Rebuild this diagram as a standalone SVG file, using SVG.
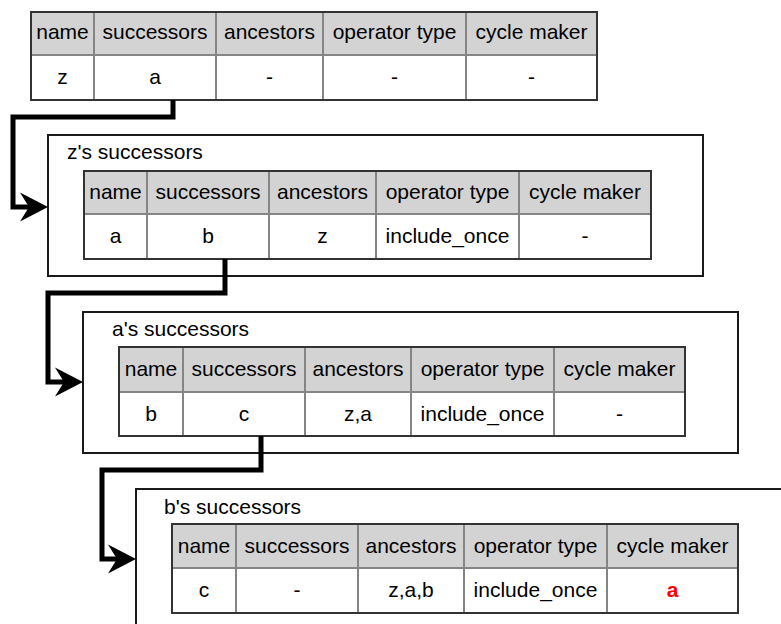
<svg xmlns="http://www.w3.org/2000/svg" width="781" height="624" viewBox="0 0 781 624">
  <style>
    text { font-family: "Liberation Sans", Arial, Helvetica, sans-serif; font-size: 21px; fill: #000; }
    .c { text-anchor: middle; }
    .hdr { fill: #d3d3d3; }
    .row { fill: #ffffff; }
    .grid { stroke: #858585; stroke-width: 2; fill: none; }
    .frame { stroke: #333333; stroke-width: 2; fill: none; }
    .box { stroke: #1a1a1a; stroke-width: 2; fill: #ffffff; }
    .link { stroke: #000; stroke-width: 5; fill: none; stroke-linejoin: miter; }
    .cyc { fill: #ff0000; font-weight: bold; }
  </style>
  <defs>
    <marker id="arrow" markerUnits="userSpaceOnUse" viewBox="-28 -16 30 32" markerWidth="30" markerHeight="32" refX="-14" refY="0" orient="auto">
      <path d="M0,0 L-28,-14.5 L-19,0 L-28,14.5 Z" fill="#000"/>
    </marker>
  </defs>

  <!-- scope frames -->
  <g id="scope-z">
    <rect class="box" x="48" y="135" width="655" height="141"/>
    <text x="67" y="159">z's successors</text>
  </g>
  <g id="scope-a">
    <rect class="box" x="83" y="312" width="655" height="141"/>
    <text x="112" y="336">a's successors</text>
  </g>
  <g id="scope-b">
    <path class="box" d="M136,640 V489 H800"/>
    <text x="164" y="514">b's successors</text>
  </g>

  <!-- node table z -->
  <g id="node-z">
    <rect class="hdr" x="31" y="12" width="566" height="43"/>
    <rect class="row" x="31" y="55" width="566" height="45"/>
    <path class="grid" d="M31,55 H597 M94,12 V100 M216,12 V100 M323,12 V100 M466,12 V100"/>
    <rect class="frame" x="31" y="12" width="566" height="88"/>
    <text class="c" x="62.5" y="39">name</text>
    <text class="c" x="155" y="39">successors</text>
    <text class="c" x="269.5" y="39">ancestors</text>
    <text class="c" x="394.5" y="39">operator type</text>
    <text class="c" x="531.5" y="39">cycle maker</text>
    <text class="c" x="62.5" y="84">z</text>
    <text class="c" x="155" y="84">a</text>
    <text class="c" x="269.5" y="84">-</text>
    <text class="c" x="394.5" y="84">-</text>
    <text class="c" x="531.5" y="84">-</text>
  </g>

  <!-- node table a -->
  <g id="node-a">
    <rect class="hdr" x="84" y="171" width="567" height="43"/>
    <rect class="row" x="84" y="214" width="567" height="45"/>
    <path class="grid" d="M84,214 H651 M147,171 V259 M269,171 V259 M376,171 V259 M519,171 V259"/>
    <rect class="frame" x="84" y="171" width="567" height="88"/>
    <text class="c" x="115.5" y="199">name</text>
    <text class="c" x="208" y="199">successors</text>
    <text class="c" x="322.5" y="199">ancestors</text>
    <text class="c" x="447.5" y="199">operator type</text>
    <text class="c" x="585" y="199">cycle maker</text>
    <text class="c" x="115.5" y="243">a</text>
    <text class="c" x="208" y="243">b</text>
    <text class="c" x="322.5" y="243">z</text>
    <text class="c" x="447.5" y="243">include_once</text>
    <text class="c" x="585" y="243">-</text>
  </g>

  <!-- node table b -->
  <g id="node-b">
    <rect class="hdr" x="119" y="347" width="566" height="45"/>
    <rect class="row" x="119" y="392" width="566" height="44"/>
    <path class="grid" d="M119,392 H685 M183,347 V436 M305,347 V436 M411,347 V436 M554,347 V436"/>
    <rect class="frame" x="119" y="347" width="566" height="89"/>
    <text class="c" x="151" y="376">name</text>
    <text class="c" x="244" y="376">successors</text>
    <text class="c" x="358" y="376">ancestors</text>
    <text class="c" x="482.5" y="376">operator type</text>
    <text class="c" x="619.5" y="376">cycle maker</text>
    <text class="c" x="151" y="421">b</text>
    <text class="c" x="244" y="421">c</text>
    <text class="c" x="358" y="421">z,a</text>
    <text class="c" x="482.5" y="421">include_once</text>
    <text class="c" x="619.5" y="421">-</text>
  </g>

  <!-- node table c -->
  <g id="node-c">
    <rect class="hdr" x="172" y="524" width="566" height="44"/>
    <rect class="row" x="172" y="568" width="566" height="45"/>
    <path class="grid" d="M172,568 H738 M236,524 V613 M358,524 V613 M464,524 V613 M607,524 V613"/>
    <rect class="frame" x="172" y="524" width="566" height="89"/>
    <text class="c" x="204" y="553">name</text>
    <text class="c" x="297" y="553">successors</text>
    <text class="c" x="411" y="553">ancestors</text>
    <text class="c" x="535.5" y="553">operator type</text>
    <text class="c" x="672.5" y="553">cycle maker</text>
    <text class="c" x="204" y="597">c</text>
    <text class="c" x="297" y="597">-</text>
    <text class="c" x="411" y="597">z,a,b</text>
    <text class="c" x="535.5" y="597">include_once</text>
    <text class="c cyc" x="672.5" y="597">a</text>
  </g>

  <!-- successor links -->
  <g id="connectors">
    <path class="link" d="M173,100 V117 H13 V207 H34" marker-end="url(#arrow)"/>
    <path class="link" d="M225,259 V293 H48 V382 H69" marker-end="url(#arrow)"/>
    <path class="link" d="M261,436 V470 H102 V559 H122" marker-end="url(#arrow)"/>
  </g>
</svg>
